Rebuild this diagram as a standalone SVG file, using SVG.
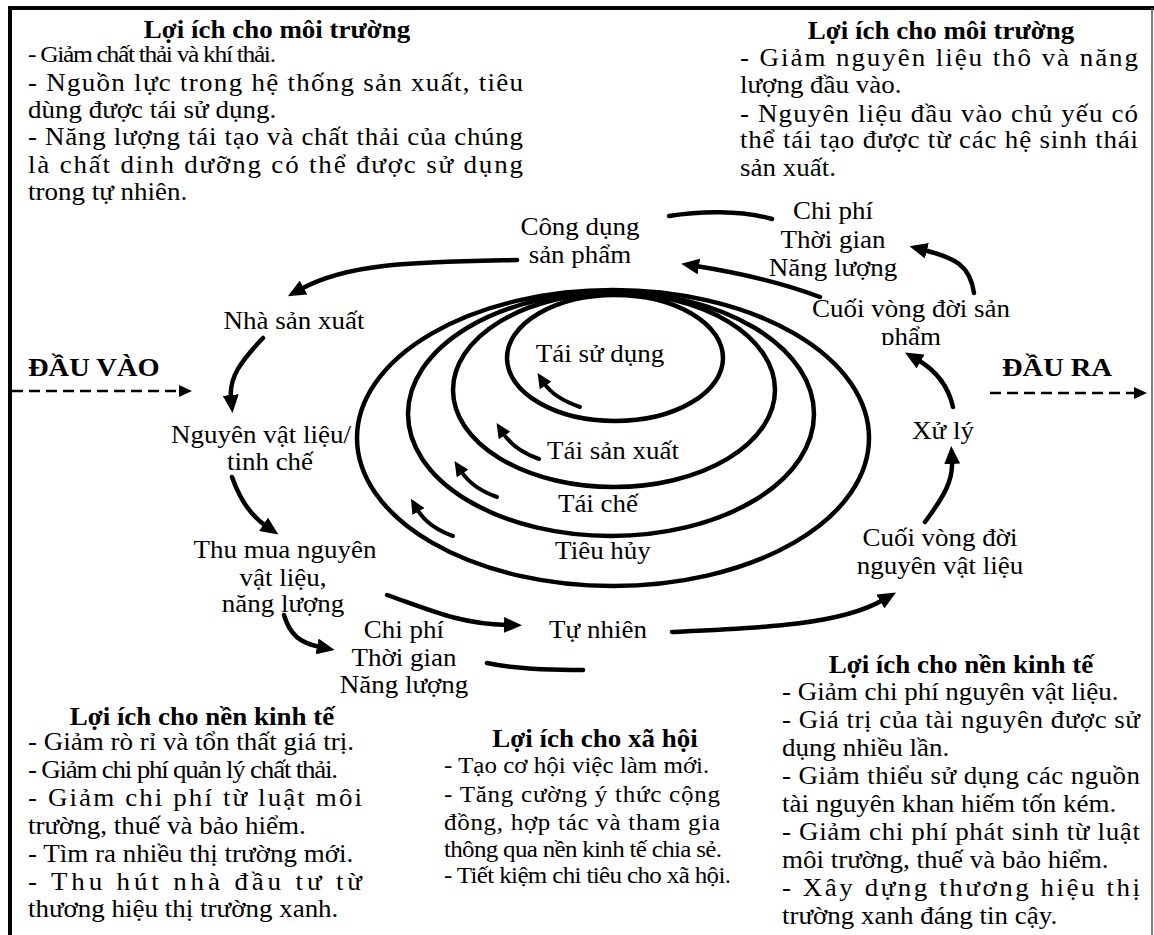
<svg xmlns="http://www.w3.org/2000/svg" width="1154" height="935" viewBox="0 0 1154 935">
<style>
.t{font-family:"Liberation Serif","Times New Roman",serif;font-size:27px;fill:#000;transform-box:fill-box;transform-origin:center;transform:scaleY(0.9)}
.b{font-weight:bold}
.m{text-anchor:middle}
.s25{font-size:25px}
.s255{font-size:25.5px}
.big{font-size:28.5px}
.ring{fill:none;stroke:#000;stroke-width:4.5}
.c{fill:none;stroke:#000;stroke-width:4.5;stroke-linecap:round}
.ca{fill:none;stroke:#000;stroke-width:4.5;stroke-linecap:round;marker-end:url(#ah)}
.cs{fill:none;stroke:#000;stroke-width:4;stroke-linecap:round;marker-end:url(#ahs)}
.d{fill:none;stroke:#000;stroke-width:2.5;stroke-dasharray:11 6;marker-end:url(#ahd)}
</style>
<defs>
<marker id="ah" markerUnits="userSpaceOnUse" markerWidth="19" markerHeight="16" refX="3" refY="8" orient="auto"><path d="M0,0 L18,8 L0,16 z" fill="#000"/></marker>
<marker id="ahs" markerUnits="userSpaceOnUse" markerWidth="16" markerHeight="14" refX="3" refY="7" orient="auto"><path d="M0,0 L15,7 L0,14 z" fill="#000"/></marker>
<marker id="ahd" markerUnits="userSpaceOnUse" markerWidth="14" markerHeight="12" refX="2" refY="6" orient="auto"><path d="M0,0 L13,6 L0,12 z" fill="#000"/></marker>
<clipPath id="clipPham"><rect x="840" y="318" width="150" height="28"/></clipPath>
</defs>
<rect width="1154" height="935" fill="#fff"/>
<g id="frame" stroke="#000" fill="none">
<line x1="10" y1="6" x2="10" y2="935" stroke-width="4"/>
<line x1="8" y1="8" x2="1154" y2="8" stroke-width="4"/>
<line x1="1152" y1="8" x2="1152" y2="935" stroke-width="1.5" stroke="#555"/>
</g>

<g id="rings">
<ellipse class="ring" cx="613" cy="438" rx="256" ry="148"/>
<ellipse class="ring" cx="611" cy="414" rx="203" ry="122"/>
<ellipse class="ring" cx="614" cy="390" rx="161" ry="97"/>
<ellipse class="ring" cx="615" cy="358" rx="108" ry="63"/>
</g>

<g id="connectors">
<path class="ca" d="M517,260 C420,262 350,262 301,289"/>
<path class="ca" d="M263,338 C240,362 229,378 231,398"/>
<path class="ca" d="M232,477 C240,500 250,515 266,526"/>
<path class="ca" d="M284,615 C290,635 300,643 320,647"/>
<path class="ca" d="M387,595 C430,610 460,624 507,625"/>
<path class="c" d="M487,663 C510,668 540,670 583,670"/>
<path class="ca" d="M672,632 C760,628 840,625 883,600"/>
<path class="ca" d="M925,522 C945,495 953,480 952,461"/>
<path class="ca" d="M953,407 C948,385 935,370 918,360"/>
<path class="ca" d="M974,293 C970,265 955,258 924,250"/>
<path class="ca" d="M820,297 C780,282 740,273 696,266"/>
<path class="c" d="M669,216 C700,211 740,210 772,219"/>
<path class="cs" d="M580,407 C563,401 551,394 544,383"/>
<path class="cs" d="M539,459 C522,453 510,444 503,433"/>
<path class="cs" d="M497,497 C480,491 468,482 461,471"/>
<path class="cs" d="M453,536 C436,530 424,521 417,509"/>
<path class="d" d="M12,391 L181,391"/>
<path class="d" d="M990,393 L1136,393"/>
</g>

<g id="env-left">
<text class="t b m" x="277" y="39">Lợi ích cho môi trường</text>
<text class="t s255" x="28" y="63" textLength="248" lengthAdjust="spacing">- Giảm chất thải và khí thải.</text>
<text class="t" x="28" y="92" textLength="495" lengthAdjust="spacing">- Nguồn lực trong hệ thống sản xuất, tiêu</text>
<text class="t" x="28" y="119">dùng được tái sử dụng.</text>
<text class="t" x="28" y="146" textLength="495" lengthAdjust="spacing">- Năng lượng tái tạo và chất thải của chúng</text>
<text class="t" x="28" y="174" textLength="495" lengthAdjust="spacing">là chất dinh dưỡng có thể được sử dụng</text>
<text class="t" x="28" y="201">trong tự nhiên.</text>
</g>

<g id="env-right">
<text class="t b m" x="941" y="40">Lợi ích cho môi trường</text>
<text class="t" x="740" y="67" textLength="398" lengthAdjust="spacing">- Giảm nguyên liệu thô và năng</text>
<text class="t" x="740" y="94">lượng đầu vào.</text>
<text class="t" x="740" y="123" textLength="398" lengthAdjust="spacing">- Nguyên liệu đầu vào chủ yếu có</text>
<text class="t" x="740" y="149" textLength="398" lengthAdjust="spacing">thể tái tạo được từ các hệ sinh thái</text>
<text class="t" x="740" y="177">sản xuất.</text>
</g>

<g id="node-cong-dung"><text class="t m" x="580" y="236">Công dụng</text><text class="t m" x="580" y="264">sản phẩm</text></g>
<g id="node-chiphi-top"><text class="t m" x="833" y="220">Chi phí</text><text class="t m" x="833" y="249">Thời gian</text><text class="t m" x="833" y="277">Năng lượng</text></g>
<g id="node-cuoi-sp"><text class="t m" x="911" y="318">Cuối vòng đời sản</text><text class="t m" x="911" y="346" clip-path="url(#clipPham)">phẩm</text></g>
<g id="node-nha-sx"><text class="t m" x="294" y="330">Nhà sản xuất</text></g>
<g id="node-dau-vao"><text class="t b big" x="28" y="377">ĐẦU VÀO</text></g>
<g id="node-nvl"><text class="t m" x="261" y="444">Nguyên vật liệu/</text><text class="t m" x="270" y="471">tinh chế</text></g>
<g id="node-thu-mua"><text class="t m" x="285" y="559">Thu mua nguyên</text><text class="t m" x="283" y="587">vật liệu,</text><text class="t m" x="283" y="613">năng lượng</text></g>
<g id="node-chiphi-bottom"><text class="t m" x="404" y="639">Chi phí</text><text class="t m" x="404" y="667">Thời gian</text><text class="t m" x="404" y="694">Năng lượng</text></g>
<g id="node-tu-nhien"><text class="t m" x="598" y="639">Tự nhiên</text></g>
<g id="node-cuoi-nvl"><text class="t m" x="940" y="547">Cuối vòng đời</text><text class="t m" x="940" y="575">nguyên vật liệu</text></g>
<g id="node-xu-ly"><text class="t m" x="943" y="440">Xử lý</text></g>
<g id="node-dau-ra"><text class="t b m big" x="1057" y="377">ĐẦU RA</text></g>
<g id="node-rings-labels">
<text class="t m" x="600" y="363">Tái sử dụng</text>
<text class="t m" x="613" y="460">Tái sản xuất</text>
<text class="t m" x="598" y="513">Tái chế</text>
<text class="t m" x="603" y="560">Tiêu hủy</text>
</g>

<g id="econ-left">
<text class="t b m" x="202" y="726">Lợi ích cho nền kinh tế</text>
<text class="t" x="28" y="751">- Giảm rò rỉ và tổn thất giá trị.</text>
<text class="t" x="28" y="779" textLength="310" lengthAdjust="spacing">- Giảm chi phí quản lý chất thải.</text>
<text class="t" x="28" y="807" textLength="334" lengthAdjust="spacing">- Giảm chi phí từ luật môi</text>
<text class="t" x="28" y="835">trường, thuế và bảo hiểm.</text>
<text class="t" x="28" y="863">- Tìm ra nhiều thị trường mới.</text>
<text class="t" x="28" y="891" textLength="334" lengthAdjust="spacing">- Thu hút nhà đầu tư từ</text>
<text class="t" x="28" y="918">thương hiệu thị trường xanh.</text>
</g>

<g id="society">
<text class="t b m" x="595" y="748">Lợi ích cho xã hội</text>
<text class="t s25" x="444" y="774">- Tạo cơ hội việc làm mới.</text>
<text class="t s25" x="444" y="803" textLength="276" lengthAdjust="spacing">- Tăng cường ý thức cộng</text>
<text class="t s25" x="444" y="831" textLength="276" lengthAdjust="spacing">đồng, hợp tác và tham gia</text>
<text class="t s25" x="444" y="858" textLength="278" lengthAdjust="spacing">thông qua nền kinh tế chia sẻ.</text>
<text class="t s25" x="444" y="884" textLength="287" lengthAdjust="spacing">- Tiết kiệm chi tiêu cho xã hội.</text>
</g>

<g id="econ-right">
<text class="t b m" x="961" y="674">Lợi ích cho nền kinh tế</text>
<text class="t" x="782" y="701">- Giảm chi phí nguyên vật liệu.</text>
<text class="t" x="782" y="729" textLength="358" lengthAdjust="spacing">- Giá trị của tài nguyên được sử</text>
<text class="t" x="782" y="757">dụng nhiều lần.</text>
<text class="t" x="782" y="785" textLength="358" lengthAdjust="spacing">- Giảm thiểu sử dụng các nguồn</text>
<text class="t" x="782" y="813">tài nguyên khan hiếm tốn kém.</text>
<text class="t" x="782" y="841" textLength="358" lengthAdjust="spacing">- Giảm chi phí phát sinh từ luật</text>
<text class="t" x="782" y="869">môi trường, thuế và bảo hiểm.</text>
<text class="t" x="782" y="897" textLength="358" lengthAdjust="spacing">- Xây dựng thương hiệu thị</text>
<text class="t" x="782" y="925">trường xanh đáng tin cậy.</text>
</g>
</svg>
